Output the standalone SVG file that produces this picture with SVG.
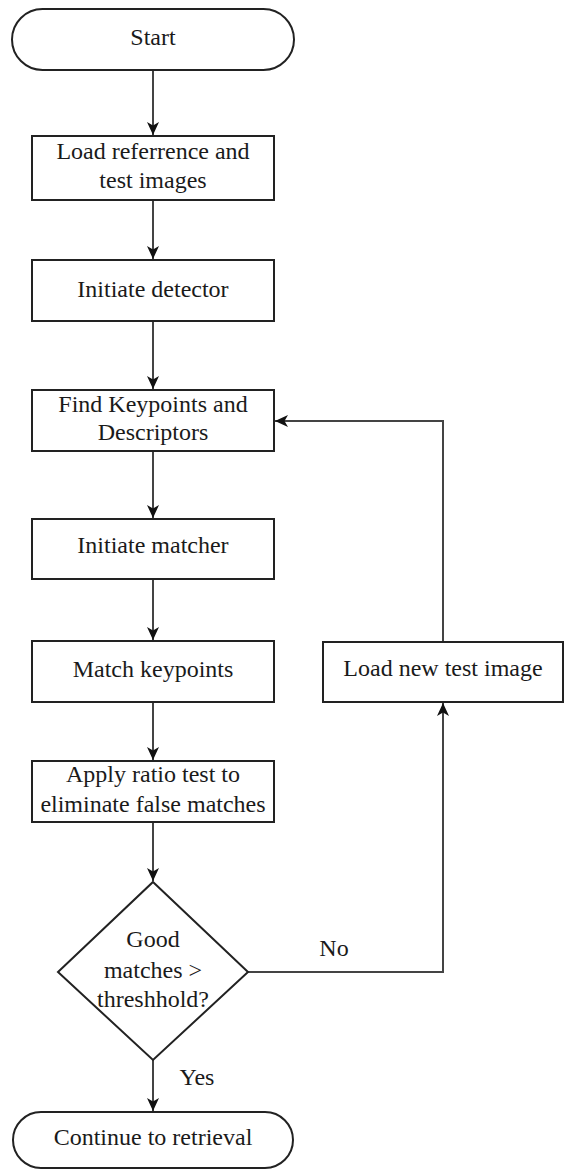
<svg xmlns="http://www.w3.org/2000/svg" width="565" height="1169" viewBox="0 0 565 1169">
<style>
.shape{fill:#fff;stroke:#222;stroke-width:2}
.edge{fill:none;stroke:#444;stroke-width:2}
text{font-size:24px;fill:#1a1a1a;text-anchor:middle}
</style>
<defs>
<marker id="arr" markerUnits="userSpaceOnUse" markerWidth="14" markerHeight="12" viewBox="0 0 14 12" refX="13" refY="6" orient="auto">
<path d="M0,0 L13,6 L0,12 L3.5,6 Z" fill="#111"/>
</marker>
</defs>
<rect width="565" height="1169" fill="#fff"/>
<g font-family="'Liberation Serif', 'Times New Roman', Times, serif">
<g id="connectors">
<path class="edge" d="M153,70 V135" marker-end="url(#arr)"/>
<path class="edge" d="M153,200 V259" marker-end="url(#arr)"/>
<path class="edge" d="M153,321 V389" marker-end="url(#arr)"/>
<path class="edge" d="M153,451 V518" marker-end="url(#arr)"/>
<path class="edge" d="M153,579 V640" marker-end="url(#arr)"/>
<path class="edge" d="M153,702 V760" marker-end="url(#arr)"/>
<path class="edge" d="M153,822 V881" marker-end="url(#arr)"/>
<path class="edge" d="M153,1060 V1111" marker-end="url(#arr)"/>
<path class="edge" d="M248,972 H443 V703" marker-end="url(#arr)"/>
<path class="edge" d="M443,642 V421 H275" marker-end="url(#arr)"/>
<text x="334" y="956">No</text>
<text x="197" y="1085">Yes</text>
</g>
<g id="start">
<rect class="shape" x="12" y="9" width="282" height="61" rx="30.5"/>
<text x="153" y="45">Start</text>
</g>
<g id="load">
<rect class="shape" x="32" y="136" width="242" height="64"/>
<text x="153" y="159">Load referrence and</text>
<text x="153" y="188">test images</text>
</g>
<g id="detector">
<rect class="shape" x="32" y="260" width="242" height="61"/>
<text x="153" y="297">Initiate detector</text>
</g>
<g id="find">
<rect class="shape" x="32" y="390" width="242" height="61"/>
<text x="153" y="412">Find Keypoints and</text>
<text x="153" y="440">Descriptors</text>
</g>
<g id="matcher">
<rect class="shape" x="32" y="519" width="242" height="60"/>
<text x="153" y="553">Initiate matcher</text>
</g>
<g id="match">
<rect class="shape" x="32" y="641" width="242" height="61"/>
<text x="153" y="677">Match keypoints</text>
</g>
<g id="ratio">
<rect class="shape" x="32" y="761" width="242" height="61"/>
<text x="153" y="782">Apply ratio test to</text>
<text x="153" y="812">eliminate false matches</text>
</g>
<g id="decision">
<polygon class="shape" points="153,882 248,972 153,1060 58,972"/>
<text x="153" y="947">Good</text>
<text x="153" y="978">matches &gt;</text>
<text x="153" y="1007">threshhold?</text>
</g>
<g id="newtest">
<rect class="shape" x="323" y="642" width="240" height="60"/>
<text x="443" y="676">Load new test image</text>
</g>
<g id="continue">
<rect class="shape" x="13" y="1112" width="280" height="56" rx="28"/>
<text x="153" y="1145">Continue to retrieval</text>
</g>
</g>
</svg>
